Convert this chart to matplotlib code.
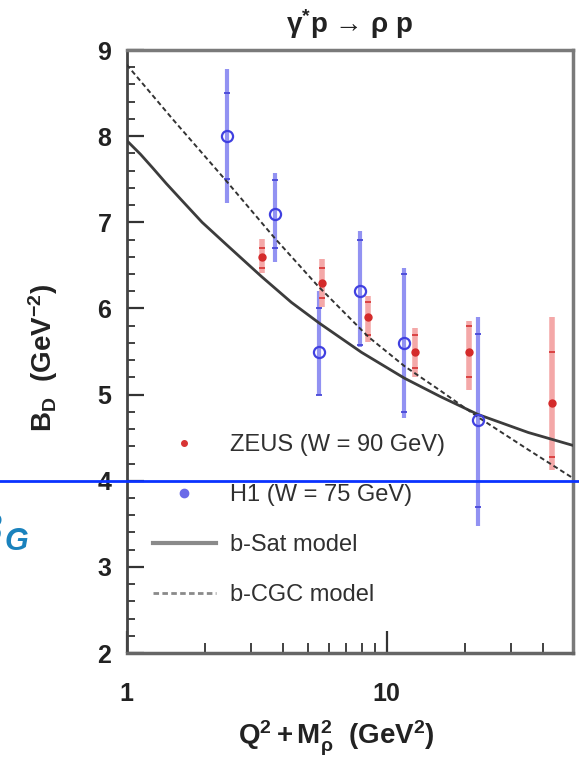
import numpy as np
import matplotlib
matplotlib.use("Agg")
import matplotlib.pyplot as plt
import matplotlib.transforms as mtransforms
from matplotlib.lines import Line2D
from matplotlib.ticker import FixedLocator, NullFormatter

plt.rcParams['font.family'] = ['Liberation Sans', 'DejaVu Sans']
plt.rcParams['mathtext.fontset'] = 'custom'
plt.rcParams['mathtext.rm'] = 'Liberation Sans'
plt.rcParams['mathtext.bf'] = 'Liberation Sans:bold'
plt.rcParams['mathtext.it'] = 'Liberation Sans:italic'

# H1 (W = 75 GeV)
h1_x = [2.42, 3.73, 5.47, 7.92, 11.7, 22.4]
h1_y = [8.0, 7.1, 5.5, 6.2, 5.6, 4.7]
h1_stat_up = [0.5, 0.39, 0.5, 0.6, 0.8, 1.0]
h1_stat_dn = [0.5, 0.4, 0.5, 0.62, 0.8, 1.0]
h1_tot_up = [0.78, 0.47, 0.7, 0.7, 0.87, 1.2]
h1_tot_dn = [0.78, 0.56, 0.5, 0.65, 0.87, 1.23]

# ZEUS (W = 90 GeV)
zeus_x = [3.30, 5.66, 8.47, 12.8, 20.7, 43.1]
zeus_y = [6.6, 6.3, 5.9, 5.5, 5.5, 4.9]
zeus_stat_up = [0.1, 0.17, 0.18, 0.19, 0.3, 0.6]
zeus_stat_dn = [0.13, 0.18, 0.21, 0.19, 0.3, 0.62]
zeus_tot_up = [0.21, 0.27, 0.25, 0.27, 0.35, 1.0]
zeus_tot_dn = [0.19, 0.28, 0.29, 0.29, 0.45, 0.78]

# models
sat_x = [1.0, 1.13, 1.26, 1.42, 1.6, 1.95, 2.4, 3.3, 4.3, 5.5, 8.0, 11.7, 16, 22.4, 35, 52]
sat_y = [7.95, 7.79, 7.63, 7.45, 7.28, 7.0, 6.75, 6.37, 6.07, 5.83, 5.49, 5.19, 4.98, 4.77, 4.56, 4.41]
cgc_x = [1.0, 1.5, 2.4, 3.7, 5.4, 8.5, 11.7, 16, 22.4, 35, 52]
cgc_y = [8.83, 8.2, 7.49, 6.82, 6.27, 5.67, 5.33, 5.05, 4.74, 4.36, 4.03]

fig = plt.figure(figsize=(5.79, 7.58), dpi=100)
ax = fig.add_axes([0.2188, 0.1385, 0.7708, 0.7955])
ax.set_xscale('log')
ax.set_xlim(1, 52)
ax.set_ylim(2, 9)

# error bars: full bar + small marks at the stat error
ax.errorbar(h1_x, h1_y, yerr=[h1_tot_dn, h1_tot_up], fmt='none', ecolor='#9292f2', elinewidth=3, capsize=0, zorder=2)
ax.errorbar(h1_x, h1_y, yerr=[h1_stat_dn, h1_stat_up], fmt='none', ecolor='#4848d8', elinewidth=0, capsize=2.5, capthick=1.3, zorder=3)
ax.errorbar(zeus_x, zeus_y, yerr=[zeus_tot_dn, zeus_tot_up], fmt='none', ecolor='#f4a8a8', elinewidth=4, capsize=0, zorder=2)
ax.errorbar(zeus_x, zeus_y, yerr=[zeus_stat_dn, zeus_stat_up], fmt='none', ecolor='#d83a3a', elinewidth=0, capsize=2.5, capthick=1.3, zorder=3)

ax.plot(sat_x, sat_y, color='#3c3c3c', lw=2.0, zorder=4)
ax.plot(cgc_x, cgc_y, color='#333333', lw=1.4, dashes=(2.5, 1.6), zorder=4)

ax.plot(h1_x, h1_y, 'o', ms=8, mfc='none', mec='#4040e0', mew=1.6, zorder=5)
ax.plot(zeus_x, zeus_y, 'o', ms=5, color='#d42a2a', zorder=5)

# legend
handles = [
    Line2D([], [], ls='none', marker='o', ms=4, color='#d83434'),
    Line2D([], [], ls='none', marker='o', ms=6, color='#6a6ae8'),
    Line2D([], [], color='#8a8a8a', lw=3),
    Line2D([], [], color='#8a8a8a', lw=2, dashes=(2, 1.2)),
]
labels = ['ZEUS (W = 90 GeV)', 'H1 (W = 75 GeV)', 'b-Sat model', 'b-CGC model']
ax.legend(handles, labels, loc='upper left', bbox_to_anchor=(0.058, 0.363), frameon=False,
          fontsize=17, handlelength=2.67, handletextpad=0.59, labelspacing=1.185,
          borderpad=0, borderaxespad=0, numpoints=1, labelcolor='#303030')

# axes styling
for s in ax.spines.values():
    s.set_color('#7a7a7a')
    s.set_linewidth(2.5)
ax.spines['left'].set_color('#444444')
ax.spines['left'].set_linewidth(2)
ax.spines['bottom'].set_color('#666666')

ax.xaxis.set_major_locator(FixedLocator([1, 10]))
ax.xaxis.set_minor_locator(FixedLocator([2, 3, 4, 5, 6, 7, 8, 9, 20, 30, 40]))
ax.xaxis.set_minor_formatter(NullFormatter())
ax.set_xticklabels(['1', '10'])
ax.yaxis.set_major_locator(FixedLocator([2, 3, 4, 5, 6, 7, 8, 9]))
ax.yaxis.set_minor_locator(FixedLocator(np.arange(2, 9.01, 0.2)))
ax.tick_params(axis='both', which='both', direction='in', top=False, right=False, color='#333333')
ax.tick_params(axis='y', which='major', length=12, width=1.6, pad=11)
ax.tick_params(axis='y', which='minor', length=6, width=1.3)
ax.tick_params(axis='x', which='major', length=16, width=1.6, pad=21)
ax.tick_params(axis='x', which='minor', length=7, width=1.3)
for lab in ax.get_xticklabels() + ax.get_yticklabels():
    lab.set_fontsize(18)
    lab.set_fontweight('bold')
    lab.set_color('#222222')

ax.set_title(r'$\mathregular{\gamma^{*}}$p → ρ p', fontsize=20, fontweight='bold', pad=12, color='#222222')
ax.set_xlabel(r'$\mathbf{Q^2 + M_{\rho}^2\ \ (GeV^2)}$', fontsize=20, color='#222222')
ax.xaxis.set_label_coords(0.47, -0.110)
ax.set_ylabel(r'$\mathbf{B_D\ \ (GeV^{-2})}$', fontsize=20, color='#222222')
ax.yaxis.set_label_coords(-0.150, 0.49)

# blue overlay line at B = 4 across the whole picture
tr = mtransforms.blended_transform_factory(fig.transFigure, ax.transData)
fig.add_artist(Line2D([0, 1], [4, 4], transform=tr, color='#0a32ff', lw=2))
fig.text(0.004, 0.285, 'B', fontsize=30, fontstyle='italic', fontweight='bold', color='#1a82bd', ha='right', va='baseline')
fig.text(0.007, 0.275, 'G', fontsize=22, fontstyle='italic', fontweight='bold', color='#1a82bd', ha='left', va='baseline')

fig.savefig('out.png', dpi=100)
